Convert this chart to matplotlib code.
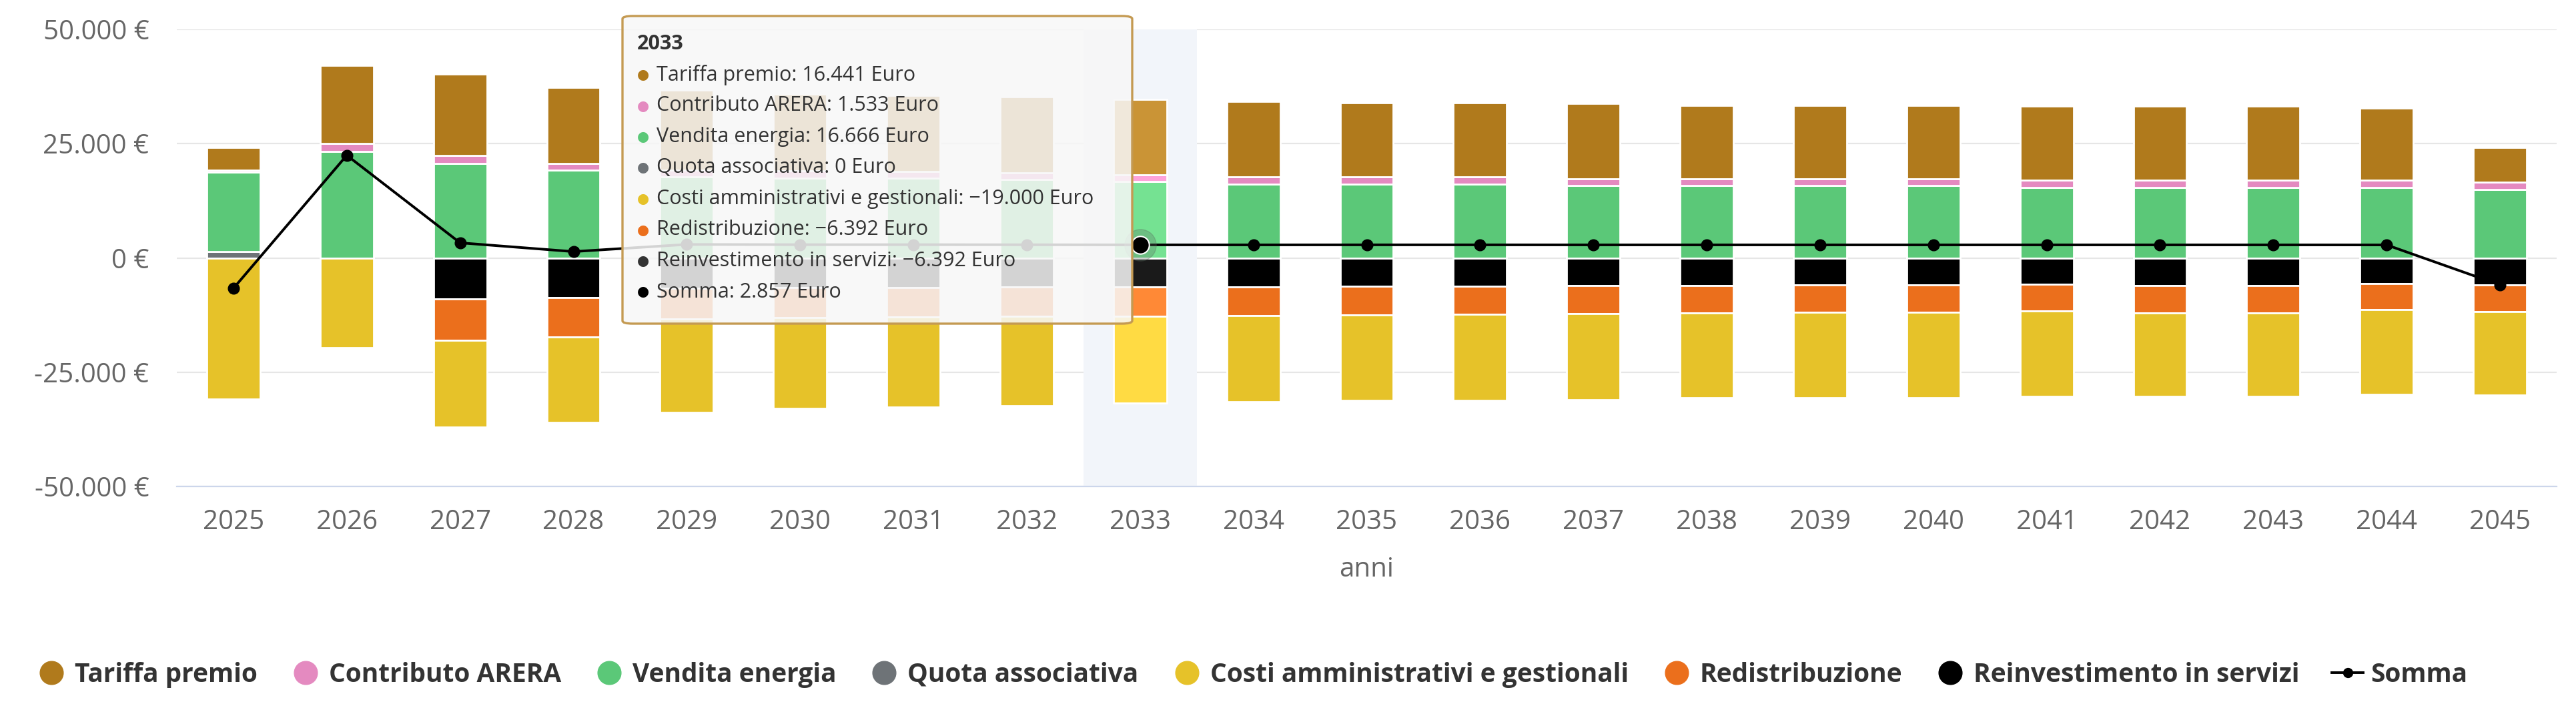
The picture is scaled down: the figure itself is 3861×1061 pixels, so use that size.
import matplotlib
matplotlib.use("Agg")
import matplotlib.pyplot as plt
import matplotlib.colors as mcolors
from matplotlib.lines import Line2D
from matplotlib.patches import FancyBboxPatch

plt.rcParams['font.family'] = ['Open Sans', 'DejaVu Sans']

anni = [str(y) for y in range(2025, 2046)]

tariffa_premio = [5020, 17120, 17860, 16600, 17500, 16900, 16700, 16600, 16441, 16600, 16290,
                  16290, 16520, 16100, 16100, 16100, 16150, 16150, 16150, 15740, 7550]
contributo_arera = [420, 1790, 1790, 1520, 1500, 1500, 1500, 1500, 1533, 1530, 1530,
                    1580, 1450, 1450, 1500, 1500, 1610, 1610, 1610, 1610, 1630]
vendita_energia = [17410, 23250, 20620, 19150, 17700, 17500, 17400, 17100, 16666, 16140, 16140,
                   16090, 15880, 15880, 15830, 15830, 15400, 15400, 15400, 15400, 14990]
quota_associativa = [1370, 0, 0, 0, 0, 0, 0, 0, 0, 0, 0,
                     0, 0, 0, 0, 0, 0, 0, 0, 0, 0]
costi = [-30940, -19630, -18900, -18580, -20400, -19970, -19800, -19600, -19000, -18790, -18570,
         -18730, -18730, -18470, -18730, -18730, -18680, -18310, -18310, -18570, -18310]
redistribuzione = [0, 0, -9020, -8680, -6700, -6500, -6450, -6400, -6392, -6310, -6270,
                   -6190, -6130, -6050, -5930, -5930, -5820, -6000, -6000, -5670, -5880]
reinvestimento = [0, 0, -9020, -8680, -6700, -6500, -6450, -6400, -6392, -6310, -6270,
                  -6190, -6130, -6050, -5930, -5930, -5820, -6000, -6000, -5670, -5880]
somma = [-6650, 22450, 3300, 1380, 2950, 2900, 2900, 2880, 2857, 2850, 2860,
         2860, 2850, 2850, 2850, 2850, 2850, 2850, 2850, 2840, -5920]

# stacking order: from the zero line outward
series = [
    ('Quota associativa', quota_associativa, '#6E7377'),
    ('Vendita energia', vendita_energia, '#5BC878'),
    ('Contributo ARERA', contributo_arera, '#E48AC0'),
    ('Tariffa premio', tariffa_premio, '#B07A1C'),
    ('Reinvestimento in servizi', reinvestimento, '#000000'),
    ('Redistribuzione', redistribuzione, '#EB6F1C'),
    ('Costi amministrativi e gestionali', costi, '#E6C229'),
]
legend_order = ['Tariffa premio', 'Contributo ARERA', 'Vendita energia', 'Quota associativa',
                'Costi amministrativi e gestionali', 'Redistribuzione', 'Reinvestimento in servizi']
hover = anni.index('2033')


def brighten(c, amt=0.1):
    r, g, b = mcolors.to_rgb(c)
    return (min(r + amt, 1), min(g + amt, 1), min(b + amt, 1))


def fmt(v, minus='-'):
    s = f"{abs(v):,.0f}".replace(',', '.')
    return (minus if v < 0 else '') + s


W, H = 3862, 1061
fig = plt.figure(figsize=(W / 100, H / 100), dpi=100)
ax = fig.add_axes([265 / W, 1 - 729 / H, (3832 - 265) / W, (729 - 44) / H])

x = list(range(len(anni)))
pos = [0.0] * len(anni)
neg = [0.0] * len(anni)
for name, vals, col in series:
    for i, v in enumerate(vals):
        if v == 0:
            continue
        base = pos[i] if v > 0 else neg[i]
        c = brighten(col) if i == hover else col
        ax.bar(i, v, bottom=base, width=0.47, color=c, edgecolor='white',
               linewidth=2.0, zorder=3)
        if v > 0:
            pos[i] += v
        else:
            neg[i] += v

ax.plot(x, somma, color='black', lw=2.8, marker='o', ms=12, zorder=5)
ax.plot(hover, somma[hover], 'o', ms=34, color='#5A6B60', alpha=0.3, zorder=5)
ax.plot(hover, somma[hover], 'o', ms=19, color='black', mec='white', mew=1.5, zorder=6)

# hover crosshair band
ax.axvspan(hover - 0.5, hover + 0.5, color='#F2F5FA', zorder=1.5, lw=0)

ax.set_xlim(-0.5, len(anni) - 0.5)
ax.set_ylim(-50000, 50000)
yt = [-50000, -25000, 0, 25000, 50000]
ax.set_yticks(yt)
ax.set_yticklabels([f"{fmt(v)} €" for v in yt])
ax.set_xticks(x)
ax.set_xticklabels(anni)
ax.tick_params(axis='both', length=0, labelsize=29, colors='#666666')
ax.tick_params(axis='y', pad=30)
ax.tick_params(axis='x', pad=24)
ax.grid(axis='y', color='#E6E6E6', lw=1.6, zorder=1)
ax.set_axisbelow(True)
for s in ['top', 'right', 'left']:
    ax.spines[s].set_visible(False)
ax.spines['bottom'].set_color('#CCD6EB')
ax.spines['bottom'].set_linewidth(1.6)
ax.set_xlabel('anni', fontsize=29, color='#666666', labelpad=22)

# legend
colors = {n: c for n, _, c in series}
handles = [Line2D([], [], marker='o', ls='none', color=colors[n], markersize=25) for n in legend_order]
handles.append(Line2D([], [], color='black', lw=2.8, marker='o', markersize=10))
labels = legend_order + ['Somma']
fig.legend(handles, labels, loc='center', bbox_to_anchor=(0.4858, 0.047), ncol=8, frameon=False,
           prop={'size': 28, 'weight': 'bold'}, labelcolor='#333333', handletextpad=0.3,
           columnspacing=1.25, handlelength=1.2)

# tooltip
tx0, tx1, ty0, ty1 = 933 / W, 1697 / W, 1 - 485 / H, 1 - 24 / H
fig.patches.append(FancyBboxPatch((tx0, ty0), tx1 - tx0, ty1 - ty0,
                                  boxstyle='round,pad=0,rounding_size=0.004',
                                  transform=fig.transFigure, facecolor=(0.968, 0.968, 0.968, 0.86),
                                  edgecolor='#C49A52', linewidth=2.4, zorder=10))
fig.text(955 / W, 1 - 66 / H, anni[hover], fontsize=22, fontweight='bold', color='#333333',
         va='center', zorder=11)
tip = [
    ('Tariffa premio', tariffa_premio[hover], colors['Tariffa premio']),
    ('Contributo ARERA', contributo_arera[hover], colors['Contributo ARERA']),
    ('Vendita energia', vendita_energia[hover], colors['Vendita energia']),
    ('Quota associativa', quota_associativa[hover], colors['Quota associativa']),
    ('Costi amministrativi e gestionali', costi[hover], colors['Costi amministrativi e gestionali']),
    ('Redistribuzione', redistribuzione[hover], colors['Redistribuzione']),
    ('Reinvestimento in servizi', reinvestimento[hover], '#333333'),
    ('Somma', somma[hover], '#000000'),
]
for k, (name, v, c) in enumerate(tip):
    yy = 1 - (112 + 46.5 * k) / H
    fig.text(964 / W, yy, '●', family='DejaVu Sans', fontsize=15, color=c, va='center',
             ha='center', zorder=11)
    fig.text(984 / W, yy, f"{name}: {fmt(v, '−')} Euro", fontsize=22, color='#333333',
             va='center', zorder=11)

fig.savefig('out.png', dpi=100, facecolor='white')
